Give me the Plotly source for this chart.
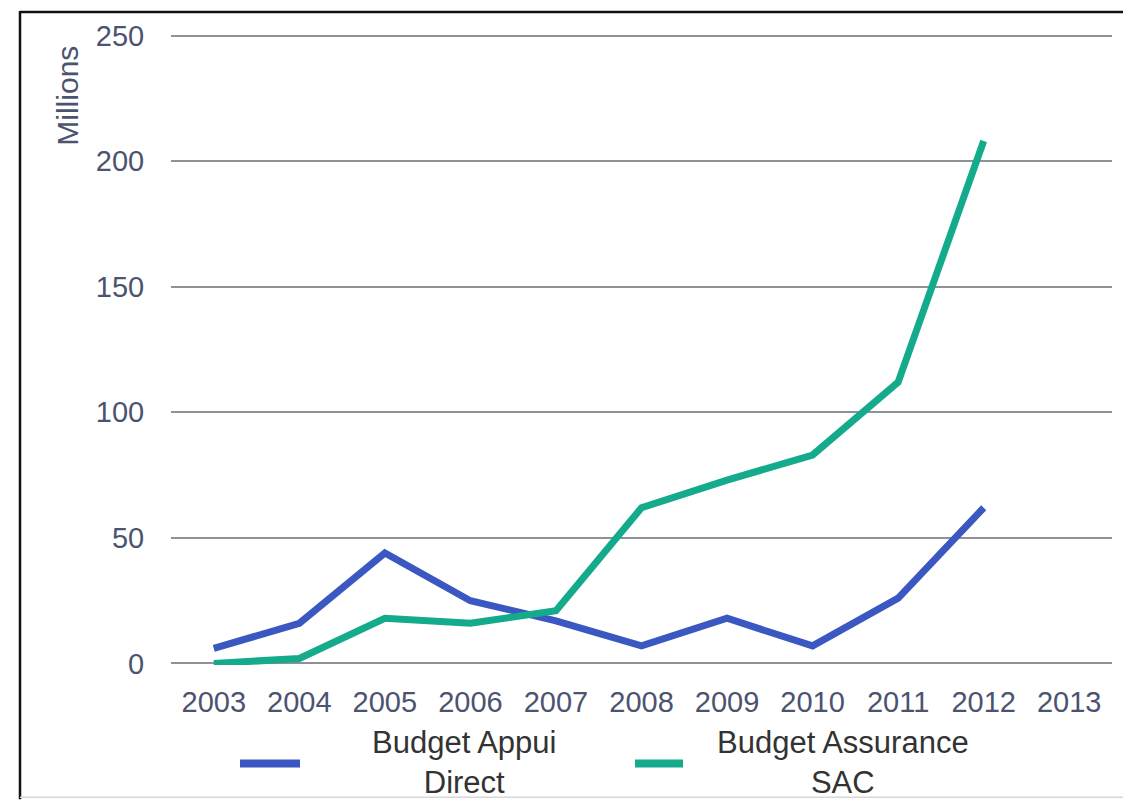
import plotly.graph_objects as go

years = ["2003", "2004", "2005", "2006", "2007", "2008", "2009", "2010", "2011", "2012", "2013"]
appui_direct = [6, 16, 44, 25, 17, 7, 18, 7, 26, 62, None]
assurance_sac = [0, 2, 18, 16, 21, 62, 73, 83, 112, 208, None]
series_names = ["Budget Appui<br>Direct", "Budget Assurance<br>SAC"]
y_ticks = [0, 50, 100, 150, 200, 250]

BLUE = "#3b57c1"
GREEN = "#14aa8c"
TICK_COLOR = "#4b5370"
GRID = "#8e9198"
FONT = "Liberation Sans"

OFF = 8  # page body margin
W, H = 1131 - OFF, 800 - OFF
# plot area in screenshot pixels: x 171..1112, y 33..663 (250 -> 33, 0 -> 663)
YPAD = 0.6
unit = (663 - 33) / 250.0
L = 171 - OFF
R = W - (1112 - OFF)
T = int(round(33 - YPAD * unit)) - OFF
B = H - (int(round(663 + YPAD * unit)) - OFF)
pw, ph = W - L - R, H - T - B

def px_x(x):
    return (x - OFF - L) / pw

def px_y(y):
    return 1 - (y - OFF - T) / ph

fig = go.Figure()
fig.add_trace(go.Scatter(x=years, y=appui_direct, mode="lines",
                         line=dict(color=BLUE, width=7), name="Budget Appui Direct"))
fig.add_trace(go.Scatter(x=years, y=assurance_sac, mode="lines",
                         line=dict(color=GREEN, width=7), name="Budget Assurance SAC"))

fig.update_layout(
    width=W, height=H,
    margin=dict(l=L, r=R, t=T, b=B),
    paper_bgcolor="white", plot_bgcolor="white",
    showlegend=False,
    font=dict(family=FONT, size=29, color=TICK_COLOR),
)
fig.update_xaxes(
    type="category", categoryorder="array", categoryarray=years,
    range=[-0.5, 10.5], showgrid=False, zeroline=False, showline=False,
    ticks="outside", ticklen=11, tickcolor="rgba(0,0,0,0)",
    tickfont=dict(family=FONT, size=29, color=TICK_COLOR),
)
fig.update_yaxes(
    range=[-YPAD, 250 + YPAD], tickvals=y_ticks, showgrid=True, gridcolor=GRID, gridwidth=2,
    zeroline=True, zerolinecolor=GRID, zerolinewidth=2, showline=False,
    ticks="outside", ticklen=20, tickcolor="rgba(0,0,0,0)",
    tickfont=dict(family=FONT, size=29, color=TICK_COLOR),
)

# y-axis title
fig.add_annotation(text="Millions", textangle=-90, xref="paper", yref="paper",
                   x=px_x(68), y=px_y(93), xanchor="center", yanchor="middle",
                   showarrow=False, font=dict(family=FONT, size=30, color=TICK_COLOR))

# manual legend
legend_items = [
    (series_names[0], BLUE, 240, 300, 464),
    (series_names[1], GREEN, 635, 683, 843),
]
for name, color, x0, x1, xt in legend_items:
    fig.add_shape(type="line", xref="paper", yref="paper",
                  x0=px_x(x0), x1=px_x(x1), y0=px_y(764), y1=px_y(764),
                  line=dict(color=color, width=8))
    fig.add_annotation(text=name, xref="paper", yref="paper", x=px_x(xt), y=px_y(763),
                       xanchor="center", yanchor="middle", align="center", showarrow=False,
                       font=dict(family=FONT, size=31, color="#333333"))

# frame lines
fig.add_shape(type="line", xref="paper", yref="paper",
              x0=px_x(20), x1=px_x(1131), y0=px_y(OFF + 1), y1=px_y(OFF + 1),
              line=dict(color="#111111", width=2.5))
fig.add_shape(type="line", xref="paper", yref="paper",
              x0=px_x(20), x1=px_x(20), y0=px_y(OFF), y1=px_y(800),
              line=dict(color="#111111", width=2.5))
fig.add_shape(type="line", xref="paper", yref="paper",
              x0=px_x(20), x1=px_x(1131), y0=px_y(798), y1=px_y(798),
              line=dict(color="#d8d8d8", width=1.5))

fig.write_html("out.html")
